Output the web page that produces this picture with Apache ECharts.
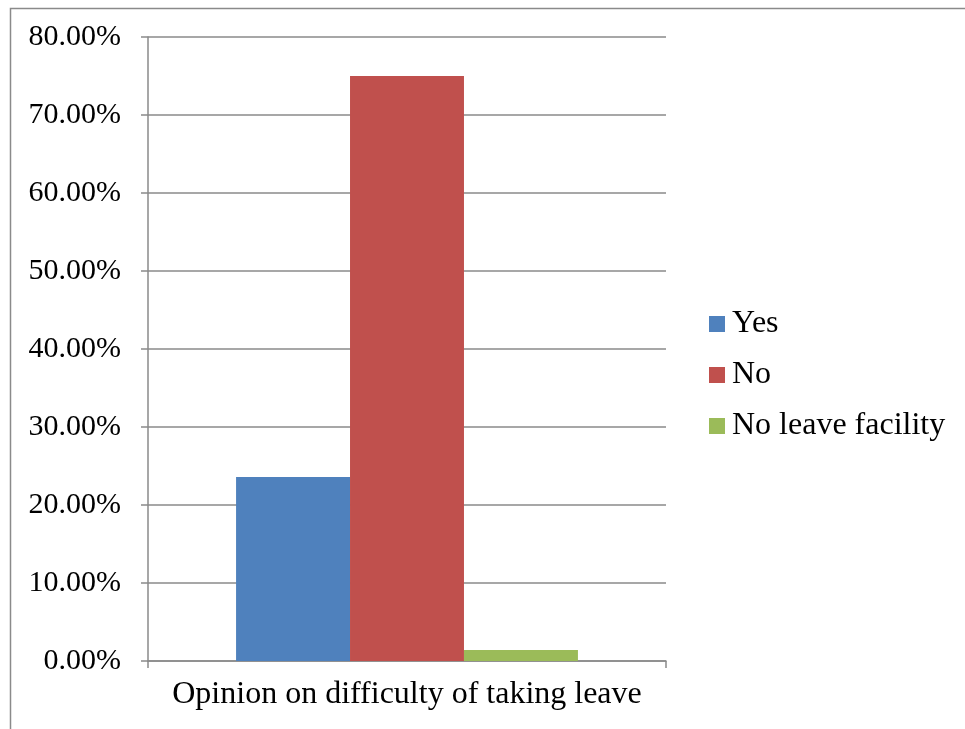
<!DOCTYPE html>
<html>
<head>
<meta charset="utf-8">
<script src="https://cdn.jsdelivr.net/npm/echarts@6/dist/echarts.min.js"></script>
<style>
  html, body { margin: 0; padding: 0; background: #fff; }
  #chart { width: 965px; height: 729px; }
</style>
</head>
<body>
<div id="chart"></div>
<script>
// Survey result: opinion on difficulty of taking leave (percent of respondents)
const categories = ['Opinion on difficulty of taking leave'];
const seriesNames = ['Yes', 'No', 'No leave facility'];
const yesValues = [23.6];
const noValues = [75.0];
const noFacilityValues = [1.4];
const seriesColors = ['#4F81BD', '#C0504D', '#9BBB59'];

const seriesValues = [yesValues, noValues, noFacilityValues];
const serifFont = '"Liberation Serif", "Times New Roman", serif';
const axisGray = '#8a8a8a';

const chart = echarts.init(document.getElementById('chart'));
chart.setOption({
  animation: false,
  backgroundColor: '#ffffff',
  graphic: [{
    type: 'rect',
    shape: { x: 10.5, y: 8.5, width: 1200, height: 900 },
    style: { fill: 'none', stroke: '#8a8a8a', lineWidth: 1.5 },
    silent: true
  }],
  grid: { left: 148, right: 299, top: 37, bottom: 68, containLabel: false },
  legend: {
    orient: 'vertical',
    left: 704,
    top: 303,
    icon: 'rect',
    itemWidth: 16,
    itemHeight: 16,
    itemGap: 19,
    data: seriesNames,
    textStyle: { fontFamily: serifFont, fontSize: 32, color: '#000', padding: [0, 0, 0, 2] }
  },
  xAxis: {
    type: 'category',
    data: categories,
    axisLine: { lineStyle: { color: axisGray, width: 1.5 } },
    axisTick: { show: true, length: 7, lineStyle: { color: axisGray, width: 1.5 } },
    axisLabel: { fontFamily: serifFont, fontSize: 32, color: '#000', margin: 18 }
  },
  yAxis: {
    type: 'value',
    min: 0,
    max: 80,
    interval: 10,
    axisLine: { show: true, lineStyle: { color: axisGray, width: 1.5 } },
    axisTick: { show: true, length: 7, lineStyle: { color: axisGray, width: 1.5 } },
    splitLine: { lineStyle: { color: axisGray, width: 1.5 } },
    axisLabel: {
      fontFamily: serifFont, fontSize: 30, color: '#000', margin: 27,
      formatter: v => v.toFixed(2) + '%'
    }
  },
  series: seriesNames.map((name, i) => ({
    name: name,
    type: 'bar',
    data: seriesValues[i],
    itemStyle: { color: seriesColors[i] },
    barGap: '0%',
    barCategoryGap: '34%'
  }))
});
</script>
</body>
</html>
